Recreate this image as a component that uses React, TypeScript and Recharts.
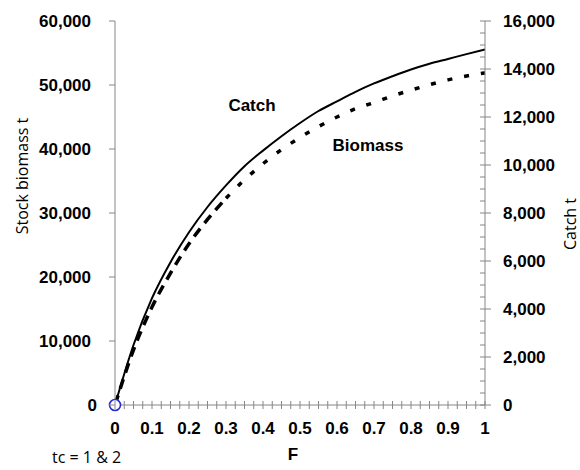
import React from 'react';
import { ComposedChart, Line, XAxis, YAxis } from 'recharts';

// Fishing mortality F
const fValues = [0, 0.05, 0.1, 0.15, 0.2, 0.25, 0.3, 0.35, 0.4, 0.45, 0.5, 0.55, 0.6, 0.65, 0.7, 0.75, 0.8, 0.85, 0.9, 0.95, 1];
// Catch t (right axis)
const catchValues = [0, 2500, 4450, 5950, 7200, 8250, 9150, 9950, 10600, 11200, 11750, 12250, 12650, 13050, 13400, 13700, 13980, 14220, 14420, 14620, 14810];
// Stock biomass t (left axis)
const biomassValues = [0, 8600, 15300, 20600, 25200, 29000, 32300, 35200, 37700, 39900, 41800, 43500, 45000, 46300, 47250, 48300, 49200, 50050, 50800, 51400, 51900];

const leftTicks = [0, 10000, 20000, 30000, 40000, 50000, 60000];
const rightMajorTicks = [0, 2000, 4000, 6000, 8000, 10000, 12000, 14000, 16000];
const xLabelTicks = [0, 0.1, 0.2, 0.3, 0.4, 0.5, 0.6, 0.7, 0.8, 0.9, 1];

const SPLIT = 6;
const data = fValues.map((f, i) => ({
  F: f,
  catchT: catchValues[i],
  bioA: i <= SPLIT ? biomassValues[i] : null,
  bioB: i >= SPLIT ? biomassValues[i] : null,
}));

const xTicks: number[] = [];
for (let i = 0; i <= 40; i++) xTicks.push(i / 40);
const rightTicks: number[] = [];
for (let i = 0; i <= 32; i++) rightTicks.push(i * 500);

const AXIS = '#868686';
const BOLD = { fontFamily: '"Liberation Sans", Arial, sans-serif', fontWeight: 700, fontSize: 17, fill: '#000' } as const;
const REG = { fontFamily: '"Open Sans", "Liberation Sans", sans-serif', fontWeight: 400, fontSize: 16, fill: '#000' } as const;

const fmt = (v: number) => v.toLocaleString('en-US');

const LeftTick = (p: any) => {
  const { x, y, payload } = p;
  const off = payload.value === 0 ? 18 : 24;
  return (
    <g>
      <line x1={x - 6} x2={x} y1={y} y2={y} stroke={AXIS} />
      <text x={x - off} y={y} dy="0.36em" textAnchor="end" {...BOLD}>{fmt(payload.value)}</text>
    </g>
  );
};

const RightTick = (p: any) => {
  const { x, y, payload } = p;
  const major = rightMajorTicks.includes(payload.value);
  return (
    <g>
      <line x1={x - 5} x2={major ? x + 6 : x} y1={y} y2={y} stroke={AXIS} />
      {major && (
        <text x={x + 18} y={y} dy="0.36em" textAnchor="start" {...BOLD}>{fmt(payload.value)}</text>
      )}
    </g>
  );
};

const XTick = (p: any) => {
  const { x, y, payload } = p;
  const lbl = xLabelTicks.find((t) => Math.abs(t - payload.value) < 1e-6);
  return (
    <g>
      <line x1={x} x2={x} y1={y - 4} y2={y + 4} stroke={AXIS} />
      {lbl !== undefined && (
        <text x={x} y={y + 29} textAnchor="middle" {...BOLD}>{String(lbl)}</text>
      )}
    </g>
  );
};

const OriginDot = (p: any) => {
  if (p.index !== 0) return <g key={`d${p.index}`} />;
  return <circle key="d0" cx={p.cx} cy={p.cy} r={5.5} stroke="#2a2ad8" strokeWidth={1.6} fill="#fff" />;
};

export default function App() {
  return (
    <div style={{ position: 'relative', width: 580, height: 470, overflow: 'hidden' }}>
      <style>{'body{margin:0;overflow:hidden;background:#fff}'}</style>
      <ComposedChart width={580} height={470} data={data} margin={{ top: 21, right: 0, bottom: 0, left: 0 }}>
        <XAxis
          xAxisId="top"
          orientation="top"
          dataKey="F"
          type="number"
          domain={[0, 1]}
          tick={false}
          tickLine={false}
          axisLine={{ stroke: AXIS }}
          height={0}
        />
        <XAxis
          dataKey="F"
          type="number"
          domain={[0, 1]}
          ticks={xTicks}
          interval={0}
          tickSize={0}
          tickMargin={0}
          tickLine={false}
          tick={XTick}
          axisLine={{ stroke: AXIS }}
          height={65}
          label={{
            content: (lp: any) => {
              const vb = lp.viewBox || {};
              return (
                <text x={vb.x + vb.width / 2 - 7} y={vb.y + 55} textAnchor="middle" {...BOLD}>F</text>
              );
            },
          }}
        />
        <YAxis
          yAxisId="left"
          orientation="left"
          type="number"
          domain={[0, 60000]}
          ticks={leftTicks}
          interval={0}
          tickSize={0}
          tickMargin={0}
          tickLine={false}
          tick={LeftTick}
          axisLine={{ stroke: AXIS }}
          width={115}
          label={{
            content: () => (
              <text x={22} y={176} transform="rotate(-90, 22, 176)" textAnchor="middle" dominantBaseline="central" {...REG}>
                Stock biomass t
              </text>
            ),
          }}
        />
        <YAxis
          yAxisId="right"
          orientation="right"
          type="number"
          domain={[0, 16000]}
          ticks={rightTicks}
          interval={0}
          tickSize={0}
          tickMargin={0}
          tickLine={false}
          tick={RightTick}
          axisLine={{ stroke: AXIS }}
          width={95}
          label={{
            content: () => (
              <text x={570} y={224} transform="rotate(-90, 570, 224)" textAnchor="middle" dominantBaseline="central" {...REG}>
                Catch t
              </text>
            ),
          }}
        />
        <Line
          yAxisId="left"
          dataKey="bioA"
          type="monotone"
          stroke="#000"
          strokeWidth={3.5}
          strokeDasharray="10 7"
          strokeLinecap="butt"
          dot={false}
          activeDot={false}
          connectNulls={false}
          isAnimationActive={false}
        />
        <Line
          yAxisId="left"
          dataKey="bioB"
          type="monotone"
          stroke="#000"
          strokeWidth={3.5}
          strokeDasharray="5 12"
          strokeLinecap="butt"
          dot={false}
          activeDot={false}
          connectNulls={false}
          isAnimationActive={false}
        />
        <Line
          yAxisId="right"
          dataKey="catchT"
          type="monotone"
          stroke="#000"
          strokeWidth={2}
          dot={OriginDot}
          activeDot={false}
          isAnimationActive={false}
        />
      </ComposedChart>
      <svg width={580} height={470} style={{ position: 'absolute', left: 0, top: 0, pointerEvents: 'none' }}>
        <text x={252} y={111} textAnchor="middle" {...BOLD}>Catch</text>
        <text x={368} y={151} textAnchor="middle" {...BOLD}>Biomass</text>
        <text x={52} y={463} textAnchor="start" {...REG}>tc = 1 &amp; 2</text>
      </svg>
    </div>
  );
}
